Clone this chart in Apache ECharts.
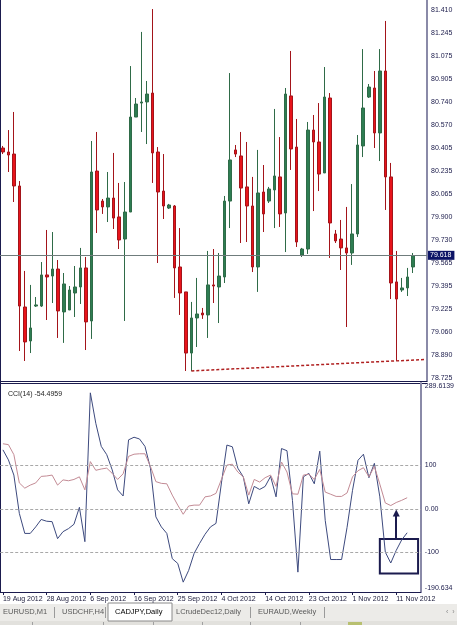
<!DOCTYPE html>
<html><head><meta charset="utf-8">
<script src="https://cdn.jsdelivr.net/npm/echarts@6/dist/echarts.min.js"></script>
<style>html,body{margin:0;padding:0;background:#fff;overflow:hidden}#c{width:457px;height:625px}</style>
</head><body><div id="c"></div>
<script>
const dates = ['19 Aug 2012','20 Aug 2012','21 Aug 2012','22 Aug 2012','23 Aug 2012','24 Aug 2012','26 Aug 2012','27 Aug 2012',
'28 Aug 2012','29 Aug 2012','30 Aug 2012','31 Aug 2012','2 Sep 2012','3 Sep 2012','4 Sep 2012','5 Sep 2012',
'6 Sep 2012','7 Sep 2012','9 Sep 2012','10 Sep 2012','11 Sep 2012','12 Sep 2012','13 Sep 2012','14 Sep 2012',
'16 Sep 2012','17 Sep 2012','18 Sep 2012','19 Sep 2012','20 Sep 2012','21 Sep 2012','23 Sep 2012','24 Sep 2012',
'25 Sep 2012','26 Sep 2012','27 Sep 2012','28 Sep 2012','30 Sep 2012','1 Oct 2012','2 Oct 2012','3 Oct 2012',
'4 Oct 2012','5 Oct 2012','7 Oct 2012','8 Oct 2012','9 Oct 2012','10 Oct 2012','11 Oct 2012','12 Oct 2012',
'14 Oct 2012','15 Oct 2012','16 Oct 2012','17 Oct 2012','18 Oct 2012','19 Oct 2012','21 Oct 2012','22 Oct 2012',
'23 Oct 2012','24 Oct 2012','25 Oct 2012','26 Oct 2012','28 Oct 2012','29 Oct 2012','30 Oct 2012','31 Oct 2012',
'1 Nov 2012','2 Nov 2012','4 Nov 2012','5 Nov 2012','6 Nov 2012','7 Nov 2012','8 Nov 2012','9 Nov 2012',
'11 Nov 2012','12 Nov 2012','13 Nov 2012'];
const emptySlots = [' ', '  '];

const opens = [80.403,80.374,80.359,80.126,79.243,78.995,79.250,79.250,
79.477,79.469,79.520,79.207,79.221,79.345,79.389,79.528,
79.141,80.235,80.016,79.973,80.038,79.900,79.739,79.936,
80.629,80.731,80.739,80.804,80.374,80.089,79.965,79.980,
79.535,79.353,78.907,79.163,79.199,79.185,79.404,79.389,
79.462,80.016,80.389,80.345,80.119,79.980,79.535,80.082,
80.016,80.097,80.192,79.929,80.783,80.410,79.622,79.666,
80.534,80.447,80.221,80.768,79.776,79.739,79.674,79.637,
79.776,80.418,80.775,80.841,80.513,80.965,80.192,79.426,
79.367,79.382,79.535];
const highs = [80.418,80.534,80.666,80.162,79.506,79.404,79.316,79.571,
79.805,79.790,79.586,79.491,79.396,79.542,79.674,79.608,
80.454,80.520,80.031,80.228,80.367,80.148,80.155,81.001,
80.768,81.250,80.892,81.417,80.410,80.359,79.995,79.987,
79.819,79.353,79.280,79.455,79.236,79.652,79.666,79.637,
80.053,80.950,80.425,80.520,80.447,80.192,80.389,80.279,
80.119,80.688,80.483,80.841,81.111,80.615,79.674,80.593,
80.644,80.731,80.994,80.804,79.805,79.878,79.973,80.140,
80.498,81.125,80.870,80.965,81.125,81.330,80.294,79.652,
79.455,79.528,79.637];
const lows = [80.359,80.228,80.009,78.922,78.849,78.907,79.243,79.243,
79.148,79.272,79.017,78.981,79.221,79.170,79.265,78.929,
79.010,79.783,79.922,79.863,79.812,79.666,79.141,79.936,
80.629,80.520,80.432,80.148,79.564,79.885,79.958,79.309,
79.185,78.776,78.776,78.951,79.156,79.017,79.272,79.126,
79.418,79.819,80.337,79.710,79.717,79.498,79.353,79.790,
80.002,79.819,79.827,79.644,80.243,79.681,79.608,79.630,
79.943,80.089,80.221,79.601,79.710,79.513,79.097,79.550,
79.754,80.337,80.768,80.403,80.308,79.951,79.301,78.849,
79.353,79.323,79.491];
const closes = [80.374,80.352,80.126,79.250,78.988,79.090,79.258,79.477,
79.462,79.520,79.214,79.411,79.367,79.389,79.528,79.134,
80.228,79.951,79.973,80.038,79.892,79.732,79.936,80.629,
80.724,80.739,80.797,80.367,80.082,79.980,79.987,79.528,
79.345,78.907,79.163,79.192,79.185,79.404,79.396,79.469,
80.016,80.316,80.359,80.111,79.980,79.535,80.075,79.922,
80.104,80.199,79.922,80.797,80.396,79.717,79.666,80.534,
80.447,80.213,80.775,79.856,79.725,79.674,79.637,79.776,
80.425,80.695,80.848,80.513,80.965,80.192,79.418,79.301,
79.382,79.462,79.618];

const cciMain = [136,113,78,-10,-56,-56,-41,-24,
-28,-29,-68,-52,-45,-35,4,-75,
267,197,144,125,90,44,30,159,
165,161,144,94,-18,-41,-56,-114,
-125,-168,-141,-102,-79,-58,-41,-33,
60,147,143,94,74,12,52,45,
52,75,28,139,134,20,-145,74,
82,58,133,-26,-116,-116,-116,-42,
43,112,126,72,105,28,-99,-124,
-95,-71,-54.4959];
const cciSignal = [150,148,125,60,48,55,60,75,
76,78,55,67,65,68,74,44,
109,89,92,94,82,68,81,121,
126,127,127,98,63,59,58,32,
9,-12,7,9,9,28,30,36,
68,101,103,85,74,32,68,62,
72,78,52,108,85,35,34,78,
80,68,91,39,34,29,29,37,
74,88,95,74,98,57,14,8,
15,20,26];

const priceTicks = [78.725,78.890,79.060,79.225,79.395,79.565,79.730,79.900,80.065,80.235,80.405,80.570,80.740,80.905,81.075,81.245,81.410];
const priceMin = 78.703, priceMax = 81.483;
const cciTicks = [-190.634,-100,0,100,289.6139];
const cciLevels = [-100,0,100];
const lastPrice = 79.618;
const cciTitle = 'CCI(14) -54.4959';
const trendLine = [[34,78.776],[76,78.860]];
const noteBox = [[69,-69],[76,-148]];
const noteArrow = [[72,-69],[72,-9]];
const tabs = ['EURUSD,M1','USDCHF,H4','CADJPY,Daily','LCrudeDec12,Daily','EURAUD,Weekly'];

const cats = dates.concat(emptySlots);
const ohlc = dates.map((d,i)=>[opens[i],closes[i],lows[i],highs[i]]);
const FONT = 'Liberation Sans';
const NAVY = '#1b1b4e';

const chart = echarts.init(document.getElementById('c'), null, {renderer:'canvas'});

function cciFmt(v){
  if (Math.abs(v)<1e-9) return '0.00';
  if (v===cciTicks[0]) return '-190.634';
  if (v===cciTicks[4]) return '289.6139';
  return String(v);
}

const g = [];
g.push({type:'rect', shape:{x:0,y:604,width:457,height:21}, style:{fill:'#ecebe8'}, silent:true});
g.push({type:'rect', shape:{x:0,y:621,width:457,height:4}, style:{fill:'#e2e1dd'}, silent:true});
[32,103,153,202,250,300].forEach(x=>g.push({type:'rect', shape:{x:x,y:622,width:1,height:3}, style:{fill:'#a0a0a0'}, silent:true}));
g.push({type:'rect', shape:{x:348,y:622,width:14,height:3}, style:{fill:'#b8c070'}, silent:true});
g.push({type:'rect', shape:{x:108,y:603,width:64,height:18}, style:{fill:'#ffffff', stroke:'#8a8a8a', lineWidth:1}, silent:true});
const tabX = [3, 62, 115, 176, 258];
tabs.forEach((t,i)=>{
  g.push({type:'text', x:tabX[i], y:612, style:{text:t, font:'7.5px '+FONT, fill: i===2?'#000':'#5a5a5a', verticalAlign:'middle'}, silent:true});
});
[54,105,250,324].forEach(x=>g.push({type:'rect', shape:{x:x,y:607,width:1,height:11}, style:{fill:'#9a9a9a'}, silent:true}));
g.push({type:'text', x:446, y:612, style:{text:'‹  ›', font:'7px '+FONT, fill:'#888', verticalAlign:'middle'}, silent:true});
g.push({type:'rect', shape:{x:0,y:0,width:1,height:592}, style:{fill:NAVY}, silent:true});
g.push({type:'rect', shape:{x:0,y:383,width:427,height:1}, style:{fill:NAVY}, silent:true});

chart.setOption({
  animation:false,
  backgroundColor:'#ffffff',
  textStyle:{fontFamily:FONT},
  title:{text:cciTitle, left:3, top:386, textStyle:{fontSize:7, fontWeight:'normal', color:'#222', fontFamily:FONT}},
  grid:[
    {left:-2, right:30, top:0, height:381},
    {left:-2, right:30, top:383, height:209}
  ],
  xAxis:[
    {type:'category', gridIndex:0, data:cats, boundaryGap:true,
     axisLine:{show:true, onZero:false, lineStyle:{color:NAVY, width:1}}, axisTick:{show:false}, axisLabel:{show:false}, splitLine:{show:false}},
    {type:'category', gridIndex:1, data:cats, boundaryGap:true,
     axisLine:{show:true, onZero:false, lineStyle:{color:NAVY, width:1}},
     axisTick:{show:true, alignWithLabel:true, interval:7, length:3, lineStyle:{color:NAVY}},
     axisLabel:{show:true, interval:7, align:'left', fontSize:7, color:'#1a1a3a', margin:4, fontFamily:FONT},
     splitLine:{show:false}}
  ],
  yAxis:[
    {type:'value', gridIndex:0, position:'right', min:priceMin, max:priceMax, scale:true,
     axisLine:{show:true, lineStyle:{color:'#8a8aa8', width:2}},
     axisTick:{show:false},
     axisLabel:{show:true, customValues:priceTicks, formatter:v=>v.toFixed(3), fontSize:7, color:'#1a1a4a', margin:4, fontFamily:FONT},
     splitLine:{show:false}},
    {type:'value', gridIndex:1, position:'right', min:cciTicks[0], max:cciTicks[4],
     axisLine:{show:true, lineStyle:{color:'#8a8aa8', width:2}},
     axisTick:{show:false},
     axisLabel:{show:true, customValues:cciTicks, formatter:cciFmt, fontSize:7, color:'#1a1a4a', margin:4, fontFamily:FONT,
       verticalAlignMaxLabel:'top', verticalAlignMinLabel:'bottom'},
     splitLine:{show:false}}
  ],
  series:[
    {type:'candlestick', xAxisIndex:0, yAxisIndex:0, data:ohlc, barWidth:3,
     itemStyle:{color:'#2e7d52', color0:'#e8141b', borderColor:'#2f6b48', borderColor0:'#a3141a', borderWidth:1},
     markLine:{silent:true, symbol:'none', animation:false,
       lineStyle:{color:'#6f7c7c', width:1, type:'solid'},
       label:{show:true, position:'end', formatter:lastPrice.toFixed(3), backgroundColor:'#0c1466', color:'#fff', fontSize:7, padding:[1,3,1,2], distance:1, fontFamily:FONT},
       data:[{yAxis:lastPrice}]}},
    {type:'line', xAxisIndex:0, yAxisIndex:0, data:trendLine, symbol:'none', silent:true,
     lineStyle:{color:'#b02020', width:1.5, type:[3,2]}},
    {type:'line', xAxisIndex:1, yAxisIndex:1, data:cciMain, symbol:'none', silent:true,
     lineStyle:{color:'#3d4a7e', width:1},
     markLine:{silent:true, symbol:'none', label:{show:false},
       lineStyle:{color:'#a8a8a8', width:1, type:[3,2]},
       data:cciLevels.map(v=>({yAxis:v}))},
     markArea:{silent:true, itemStyle:{color:'rgba(0,0,0,0)', borderColor:'#1b1b4e', borderWidth:2},
       data:[[{coord:noteBox[0]},{coord:noteBox[1]}]]}},
    {type:'line', xAxisIndex:1, yAxisIndex:1, data:cciSignal, symbol:'none', silent:true,
     lineStyle:{color:'#c38b95', width:1},
     markLine:{silent:true, symbol:['none','triangle'], symbolSize:[7,7], label:{show:false},
       lineStyle:{color:'#1b1b4e', width:2, type:'solid'},
       data:[[{coord:noteArrow[0]},{coord:noteArrow[1]}]]}}
  ],
  graphic:g
});
</script>
</body></html>
